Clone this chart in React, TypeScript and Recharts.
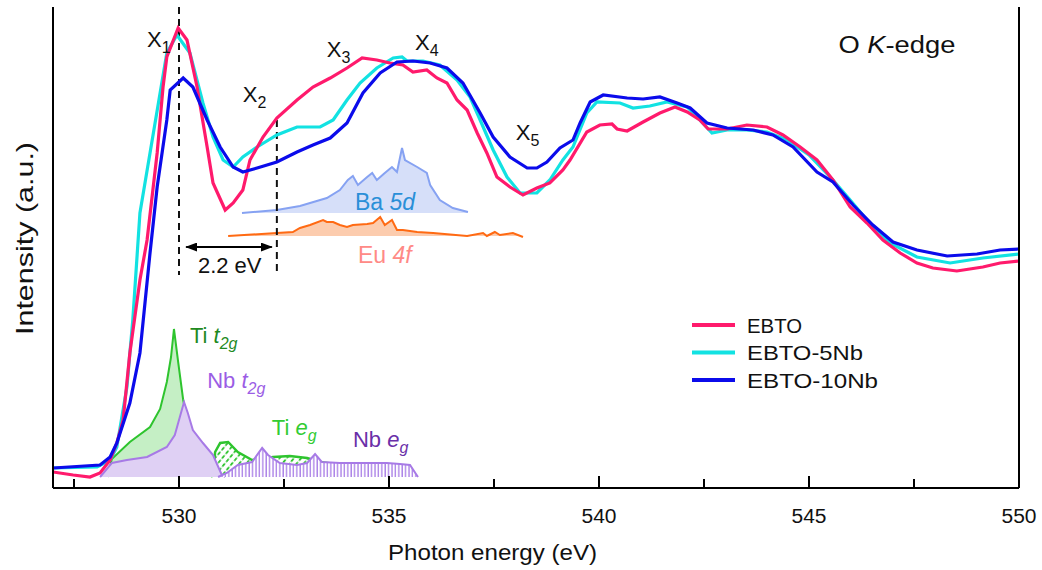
import React from "react";
import {
  ComposedChart,
  Line,
  Area,
  XAxis,
  YAxis,
  ReferenceLine,
  ReferenceDot,
} from "recharts";

// photon energy (eV) vs intensity (a.u.)
const ebto: [number, number][] = [
  [527.0, 15], [527.48, 12], [527.88, 10], [528.12, 14], [528.36, 27], [528.52, 44],
  [528.67, 67], [528.83, 134], [529.07, 207], [529.24, 247], [529.48, 334], [529.62, 400],
  [529.71, 430], [529.98, 459], [530.19, 447], [530.43, 400], [530.67, 340], [530.81, 304],
  [531.1, 277], [531.29, 284], [531.52, 297], [531.69, 327], [532.0, 350], [532.33, 369],
  [532.81, 387], [533.19, 400], [533.6, 409], [534.0, 419], [534.36, 429], [534.71, 427],
  [535.02, 424], [535.33, 422], [535.57, 415], [535.9, 417], [536.14, 409], [536.38, 404],
  [536.62, 387], [536.86, 377], [537.1, 354], [537.33, 334], [537.57, 310], [537.88, 300],
  [538.19, 292], [538.52, 299], [538.83, 304], [539.14, 317], [539.31, 327], [539.71, 355],
  [540.02, 362], [540.31, 363], [540.43, 358], [540.67, 356], [541.05, 365], [541.45, 374],
  [541.81, 380], [542.1, 375], [542.4, 367], [542.6, 358], [543.05, 358], [543.52, 362],
  [544.0, 360], [544.38, 352], [544.79, 340], [545.19, 327], [545.57, 307], [545.98, 280],
  [546.38, 264], [546.76, 247], [547.17, 234], [547.57, 224], [547.95, 219], [548.52, 216],
  [549.14, 220], [549.55, 224], [550.0, 226],
];

const ebto5nb: [number, number][] = [
  [527.0, 19], [528.05, 20], [528.36, 27], [528.52, 40], [528.76, 100], [528.9, 167],
  [529.07, 274], [529.31, 334], [529.71, 434], [529.95, 452], [530.26, 434], [530.57, 384],
  [530.81, 350], [531.05, 327], [531.29, 320], [531.52, 330], [531.86, 340], [532.33, 352],
  [532.81, 360], [533.36, 360], [533.67, 367], [534.0, 387], [534.31, 404], [534.71, 419],
  [535.1, 429], [535.31, 430], [535.43, 426], [535.81, 426], [536.21, 422], [536.62, 407],
  [536.93, 390], [537.17, 367], [537.48, 337], [537.81, 310], [538.12, 294], [538.52, 294],
  [538.83, 307], [539.14, 327], [539.38, 340], [539.71, 374], [539.95, 385], [540.5, 384],
  [540.81, 379], [541.21, 381], [541.62, 385], [542.1, 380], [542.4, 367], [542.69, 354],
  [543.05, 357], [543.52, 357], [544.0, 355], [544.48, 347], [545.0, 332], [545.57, 307],
  [545.98, 287], [546.38, 267], [546.93, 244], [547.57, 230], [548.36, 224], [549.14, 229],
  [550.0, 233],
];

const ebto10nb: [number, number][] = [
  [527.0, 19], [528.12, 22], [528.36, 30], [528.52, 44], [528.83, 84], [529.07, 134],
  [529.31, 234], [529.48, 300], [529.71, 367], [529.79, 397], [530.1, 409], [530.33, 400],
  [530.67, 367], [530.98, 340], [531.29, 320], [531.52, 315], [531.86, 319], [532.33, 325],
  [532.81, 335], [533.19, 342], [533.6, 349], [534.0, 364], [534.38, 394], [534.79, 414],
  [535.19, 425], [535.57, 426], [535.98, 424], [536.38, 419], [536.76, 404], [537.17, 374],
  [537.48, 350], [537.88, 330], [538.29, 319], [538.52, 319], [538.76, 325], [539.07, 339],
  [539.38, 347], [539.55, 364], [539.79, 385], [540.1, 392], [540.67, 389], [541.05, 388],
  [541.45, 390], [541.86, 384], [542.17, 379], [542.57, 364], [543.05, 359], [543.67, 357],
  [544.14, 352], [544.62, 340], [545.19, 315], [545.57, 305], [546.05, 282], [546.52, 262],
  [547.0, 245], [547.57, 237], [548.29, 231], [549.0, 233], [549.55, 237], [550.0, 238],
];

// partial densities of states (offset curves)
const ba5d: [number, number][] = [
  [531.5, 274], [532.33, 277], [532.88, 281], [533.52, 289], [533.83, 297], [534.02, 307],
  [534.14, 311], [534.26, 302], [534.48, 310], [534.6, 314], [534.71, 307], [534.9, 314],
  [535.07, 320], [535.19, 315], [535.31, 339], [535.38, 327], [535.67, 320], [535.9, 314],
  [535.98, 302], [536.21, 287], [536.52, 279], [536.88, 275],
];

const eu4f: [number, number][] = [
  [531.17, 251], [532.33, 254], [532.71, 255], [532.88, 259], [533.12, 262], [533.43, 267],
  [533.52, 265], [533.67, 265], [533.83, 262], [534.0, 260], [534.14, 262], [534.48, 263],
  [534.62, 264], [534.79, 270], [534.9, 262], [535.07, 267], [535.19, 257], [535.33, 257],
  [535.67, 255], [536.05, 254], [536.86, 251], [537.24, 254], [537.33, 251], [537.52, 255],
  [537.64, 252], [537.95, 254], [538.19, 250],
];

const tiT2g: [number, number][] = [
  [528.3, 10], [528.4, 28], [528.83, 45], [529.31, 60], [529.55, 78], [529.71, 105],
  [529.81, 130], [529.88, 158], [529.98, 125], [530.1, 87], [530.25, 55], [530.5, 30],
  [530.75, 12], [530.8, 10],
];

const tiEg: [number, number][] = [
  [530.81, 10], [530.86, 35], [530.98, 44], [531.17, 45], [531.4, 35], [531.74, 27],
  [531.98, 28], [532.24, 30], [532.64, 31], [533.05, 29], [533.36, 25], [533.55, 24],
  [533.6, 10],
];

const nbT2g: [number, number][] = [
  [528.12, 10], [528.4, 24], [528.76, 27], [529.24, 30], [529.71, 40], [529.9, 52],
  [530.02, 70], [530.12, 85], [530.21, 74], [530.33, 57], [530.57, 44], [530.81, 32],
  [531.02, 12], [531.1, 10],
];

const nbEg: [number, number][] = [
  [530.93, 10], [531.14, 14], [531.4, 22], [531.74, 25], [531.98, 39], [532.12, 32],
  [532.4, 24], [532.81, 22], [533.05, 24], [533.24, 33], [533.4, 25], [533.83, 24],
  [534.38, 24], [534.95, 24], [535.26, 23], [535.5, 22], [535.69, 10],
];

const majorTicks = [530, 535, 540, 545, 550];
const xTicks = [527.5, 530, 532.5, 535, 537.5, 540, 542.5, 545, 547.5, 550];

const legendItems = [
  { name: "EBTO", color: "#ff1a6c", len: 55 },
  { name: "EBTO-5Nb", color: "#12e2e2", len: 116 },
  { name: "EBTO-10Nb", color: "#0b0beb", len: 131 },
];

const rows = (pts: [number, number][]) => pts.map(([e, v]) => ({ e, v }));

const FONT = "'Liberation Sans', Arial, sans-serif";

function BottomTick(props: any) {
  const { x, y, payload } = props;
  const major = majorTicks.includes(payload.value);
  return (
    <g>
      <line x1={x} x2={x} y1={y} y2={y - (major ? 12 : 9)} stroke="#000" strokeWidth={2} />
      {major && (
        <text x={x} y={y + 35} textAnchor="middle" fontSize={20} fontFamily={FONT} fill="#111" textLength={35} lengthAdjust="spacingAndGlyphs">
          {payload.value}
        </text>
      )}
    </g>
  );
}

function TopTick(props: any) {
  const { x, y, payload } = props;
  const major = majorTicks.includes(payload.value);
  return <line x1={x} x2={x} y1={y} y2={y + (major ? 12 : 9)} stroke="#000" strokeWidth={2} />;
}

function note(key: string, x: number, y: number, body: React.ReactNode, fill = "#111", size = 22, len?: number) {
  return (
    <ReferenceDot
      key={key}
      x={x}
      y={y}
      r={0}
      shape={(p: any) => (
        <text x={p.cx} y={p.cy} fill={fill} fontSize={size} fontFamily={FONT} textLength={len} lengthAdjust={len ? "spacingAndGlyphs" : undefined}>
          {body}
        </text>
      )}
    />
  );
}

const sub = (s: string, italic = false) => (
  <tspan fontSize={16} dy={6} fontStyle={italic ? "italic" : undefined}>
    {s}
  </tspan>
);

export default function App() {
  return (
    <div style={{ position: "absolute", left: 0, top: 0, width: 1042, height: 570, background: "#fff" }}>
      <ComposedChart width={1042} height={570} margin={{ top: 7, right: 0, bottom: 0, left: 0 }}>
        <defs>
          <pattern id="tiEgHatch" width="5.5" height="6" patternUnits="userSpaceOnUse" patternTransform="rotate(40)">
            <rect width="5.5" height="6" fill="#fff" />
            <line x1="2.7" y1="0.5" x2="2.7" y2="4.5" stroke="#2ec42e" strokeWidth="1.8" />
          </pattern>
          <pattern id="nbEgHatch" width="3.4" height="6" patternUnits="userSpaceOnUse">
            <rect width="3.4" height="6" fill="#fff" />
            <line x1="1" y1="0" x2="1" y2="6" stroke="#a77ae6" strokeWidth="1.3" />
          </pattern>
          <marker id="arrowHead" markerWidth="12" markerHeight="9" refX="11" refY="4.5" orient="auto-start-reverse" markerUnits="userSpaceOnUse">
            <path d="M0,0 L12,4.5 L0,9 z" fill="#000" />
          </marker>
        </defs>

        <XAxis
          dataKey="e"
          type="number"
          domain={[527, 550]}
          allowDataOverflow
          ticks={xTicks}
          interval={0}
          tickSize={0}
          tickMargin={0}
          tickLine={false}
          tick={BottomTick}
          axisLine={{ stroke: "#000", strokeWidth: 2 }}
          height={82}
          label={{
            content: () => (
              <text x={388} y={560} fontSize={22} fontFamily={FONT} fill="#111" textLength={209} lengthAdjust="spacingAndGlyphs">
                Photon energy (eV)
              </text>
            ),
          }}
        />
        <XAxis
          xAxisId="top"
          orientation="top"
          dataKey="e"
          type="number"
          domain={[527, 550]}
          allowDataOverflow
          ticks={xTicks}
          interval={0}
          tickSize={0}
          tickMargin={0}
          tickLine={false}
          tick={TopTick}
          axisLine={{ stroke: "#000", strokeWidth: 2 }}
          height={0}
        />
        <YAxis
          type="number"
          domain={[-1, 480]}
          allowDataOverflow
          width={53}
          tick={false}
          tickLine={false}
          axisLine={{ stroke: "#000", strokeWidth: 2 }}
          label={{
            content: () => (
              <text x={33} y={335} transform="rotate(-90 33 335)" fontSize={24} fontFamily={FONT} fill="#111" textLength={193} lengthAdjust="spacingAndGlyphs">
                Intensity (a.u.)
              </text>
            ),
          }}
        />
        <YAxis
          yAxisId="right"
          orientation="right"
          type="number"
          domain={[-1, 480]}
          width={23}
          tick={false}
          tickLine={false}
          axisLine={{ stroke: "#000", strokeWidth: 2 }}
        />

        <Area data={rows(ba5d)} dataKey="v" type="linear" baseValue={274} stroke="#86a2f2" strokeWidth={2} fill="#d6dff9" fillOpacity={1} isAnimationActive={false} />
        <Area data={rows(eu4f)} dataKey="v" type="linear" baseValue={251} stroke="#ff6a13" strokeWidth={2} fill="#fcccae" fillOpacity={1} isAnimationActive={false} />
        <Area data={rows(tiT2g)} dataKey="v" type="linear" baseValue={10} stroke="#2ec42e" strokeWidth={2} fill="#c5efc5" fillOpacity={1} isAnimationActive={false} />
        <Area data={rows(tiEg)} dataKey="v" type="linear" baseValue={10} stroke="#2ec42e" strokeWidth={2.5} fill="url(#tiEgHatch)" fillOpacity={1} isAnimationActive={false} />
        <Area data={rows(nbT2g)} dataKey="v" type="linear" baseValue={10} stroke="#a77ae6" strokeWidth={2} fill="#dfd0f4" fillOpacity={1} isAnimationActive={false} />
        <Area data={rows(nbEg)} dataKey="v" type="linear" baseValue={10} stroke="#a77ae6" strokeWidth={2} fill="url(#nbEgHatch)" fillOpacity={1} isAnimationActive={false} />

        <ReferenceLine segment={[{ x: 530, y: 480 }, { x: 530, y: 212 }]} stroke="#111" strokeWidth={2} strokeDasharray="7 5" />
        <ReferenceLine segment={[{ x: 532.33, y: 367 }, { x: 532.33, y: 212 }]} stroke="#111" strokeWidth={2} strokeDasharray="7 5" />
        <ReferenceLine
          segment={[{ x: 530.17, y: 240 }, { x: 532.21, y: 240 }]}
          shape={(p: any) => (
            <line x1={p.x1} y1={p.y1} x2={p.x2} y2={p.y2} stroke="#000" strokeWidth={2} markerStart="url(#arrowHead)" markerEnd="url(#arrowHead)" />
          )}
        />

        <Line data={rows(ebto5nb)} dataKey="v" type="linear" stroke="#12e2e2" strokeWidth={3.2} dot={false} isAnimationActive={false} />
        <Line data={rows(ebto)} dataKey="v" type="linear" stroke="#ff1a6c" strokeWidth={3.2} dot={false} isAnimationActive={false} />
        <Line data={rows(ebto10nb)} dataKey="v" type="linear" stroke="#0b0beb" strokeWidth={3.2} dot={false} isAnimationActive={false} />

        {note("x1", 529.24, 440, <>X{sub("1")}</>)}
        {note("x2", 531.52, 385, <>X{sub("2")}</>)}
        {note("x3", 533.52, 430, <>X{sub("3")}</>)}
        {note("x4", 535.62, 437, <>X{sub("4")}</>)}
        {note("x5", 538.02, 347, <>X{sub("5")}</>)}
        {note("edge", 545.7, 434, <>O <tspan fontStyle="italic">K</tspan>-edge</>, "#111", 23, 117)}
        {note("gap", 530.45, 214, <>2.2 eV</>)}
        {note("ba", 534.19, 277, <>Ba <tspan fontStyle="italic">5d</tspan></>, "#2a8fd8", 23)}
        {note("eu", 534.26, 224, <>Eu <tspan fontStyle="italic">4f</tspan></>, "#ff8a86", 23)}
        {note("tit2g", 530.26, 144, <>Ti <tspan fontStyle="italic">t</tspan>{sub("2g", true)}</>, "#1f8a1f")}
        {note("nbt2g", 530.67, 99, <>Nb <tspan fontStyle="italic">t</tspan>{sub("2g", true)}</>, "#9b5de5")}
        {note("tieg", 532.21, 52, <>Ti <tspan fontStyle="italic">e</tspan>{sub("g", true)}</>, "#33cc33")}
        {note("nbeg", 534.14, 40, <>Nb <tspan fontStyle="italic">e</tspan>{sub("g", true)}</>, "#6a2fa8")}
      </ComposedChart>

      <svg width={220} height={90} style={{ position: "absolute", left: 685, top: 310 }}>
        {legendItems.map((it, i) => (
          <g key={it.name} transform={`translate(0 ${15 + i * 27.5})`}>
            <line x1={7} x2={50} y1={0} y2={0} stroke={it.color} strokeWidth={4} />
            <text x={62} y={7.5} fontSize={21} fontFamily={FONT} fill="#111" textLength={it.len} lengthAdjust="spacingAndGlyphs">
              {it.name}
            </text>
          </g>
        ))}
      </svg>
    </div>
  );
}
